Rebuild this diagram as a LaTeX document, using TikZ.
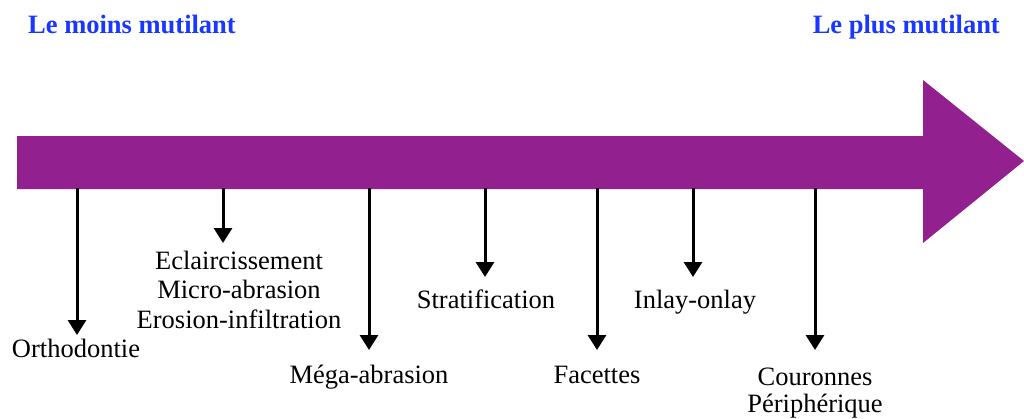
\documentclass[tikz,border=0pt]{standalone}
\usepackage{fontspec}
\setmainfont{Liberation Serif}
\usetikzlibrary{arrows.meta}
\definecolor{barpurple}{RGB}{146,32,142}
\definecolor{titleblue}{RGB}{25,55,255}
\tikzset{
  lab/.style={anchor=base, inner sep=0pt, align=center, font=\fontsize{26.5}{29.5}\selectfont},
  ttl/.style={inner sep=0pt, text=titleblue, font=\fontsize{26.5}{29.5}\selectfont\bfseries},
  down/.style={line width=3pt, -{Triangle[width=18pt,length=15pt]}}
}
\begin{document}
\begin{tikzpicture}[x=1pt,y=-1pt]
\useasboundingbox (0,0) rectangle (1024,418);
% big arrow
\fill[barpurple] (17,136) -- (923,136) -- (923,80) -- (1024,161) -- (923,243) -- (923,189) -- (17,189) -- cycle;
% titles
\node[ttl, anchor=base west] (tl) at (28,33) {Le moins mutilant};
\node[ttl, anchor=base east] (tr) at (1000,33) {Le plus mutilant};
% start points on bar
\coordinate (b1) at (77,188);
\coordinate (b2) at (223,188);
\coordinate (b3) at (369,188);
\coordinate (b4) at (485,188);
\coordinate (b5) at (597,188);
\coordinate (b6) at (693,188);
\coordinate (b7) at (815,188);
% tips
\coordinate (t1) at (77,335);
\coordinate (t2) at (223,243);
\coordinate (t3) at (369,350);
\coordinate (t4) at (485,277);
\coordinate (t5) at (597,350);
\coordinate (t6) at (693,277);
\coordinate (t7) at (815,350);
% labels (base anchor = baseline of last line)
\node[lab] (l1) at (76,357) {Orthodontie};
\node[lab] (l2) at (239,328) {Eclaircissement\\Micro-abrasion\\Erosion-infiltration};
\node[lab] (l3) at (369,383) {Méga-abrasion};
\node[lab] (l4) at (486,308) {Stratification};
\node[lab] (l5) at (597,383) {Facettes};
\node[lab] (l6) at (695,308) {Inlay-onlay};
\node[lab, font=\fontsize{26.5}{27}\selectfont] (l7) at (815,412) {Couronnes\\Périphérique};
% connectors
\draw[down] (b1) -- (t1);
\draw[down] (b2) -- (t2);
\draw[down] (b3) -- (t3);
\draw[down] (b4) -- (t4);
\draw[down] (b5) -- (t5);
\draw[down] (b6) -- (t6);
\draw[down] (b7) -- (t7);
\end{tikzpicture}
\end{document}
